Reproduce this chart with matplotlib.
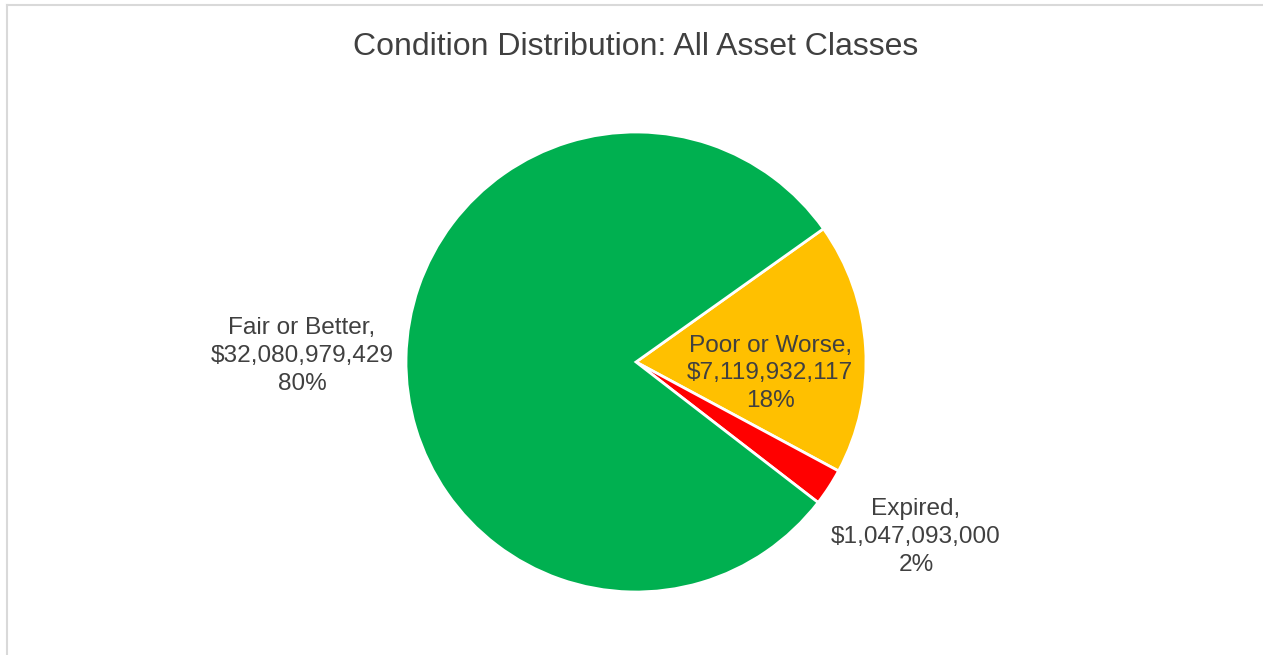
import matplotlib.pyplot as plt
from matplotlib.lines import Line2D

# data
categories = ["Poor or Worse", "Expired", "Fair or Better"]
values = [7119932117, 1047093000, 32080979429]
pct_labels = ["18%", "2%", "80%"]
colors = ["#FFC000", "#FF0000", "#00B050"]
title = "Condition Distribution: All Asset Classes"

# label positions (pie radius = 1)
label_pos = [(0.583, -0.05), (1.217, -0.76), (-1.452, 0.025)]

plt.rcParams['font.family'] = ['Liberation Sans', 'DejaVu Sans']
text_color = "#404040"

W, H = 1263, 655
fig = plt.figure(figsize=(W / 100, H / 100), dpi=100)

cx, cy, r = 636, 362, 230
ax = fig.add_axes([(cx - r) / W, (H - cy - r) / H, 2 * r / W, 2 * r / H])

ax.pie(values, colors=colors, startangle=35.4, counterclock=False,
       radius=1, wedgeprops=dict(edgecolor="white", linewidth=2))
ax.set_xlim(-1, 1)
ax.set_ylim(-1, 1)
ax.set_aspect("equal")
ax.axis("off")

for name, v, pct, (x, y) in zip(categories, values, pct_labels, label_pos):
    ax.text(x, y, f"{name},\n${v:,}\n{pct}", ha="center", va="center",
            fontsize=17.6, color=text_color, linespacing=1.34, clip_on=False)

fig.text(cx / W, 1 - 47 / H, title, ha="center", va="center",
         fontsize=23, color=text_color)

# chart border (top and left visible)
fig.add_artist(Line2D([6.5 / W, 6.5 / W], [0, 1 - 4.5 / H], transform=fig.transFigure,
                      color="#D9D9D9", linewidth=1.5))
fig.add_artist(Line2D([6.5 / W, 1], [1 - 4.5 / H, 1 - 4.5 / H], transform=fig.transFigure,
                      color="#D9D9D9", linewidth=1.5))

fig.savefig("out.png", dpi=100, facecolor="white")
